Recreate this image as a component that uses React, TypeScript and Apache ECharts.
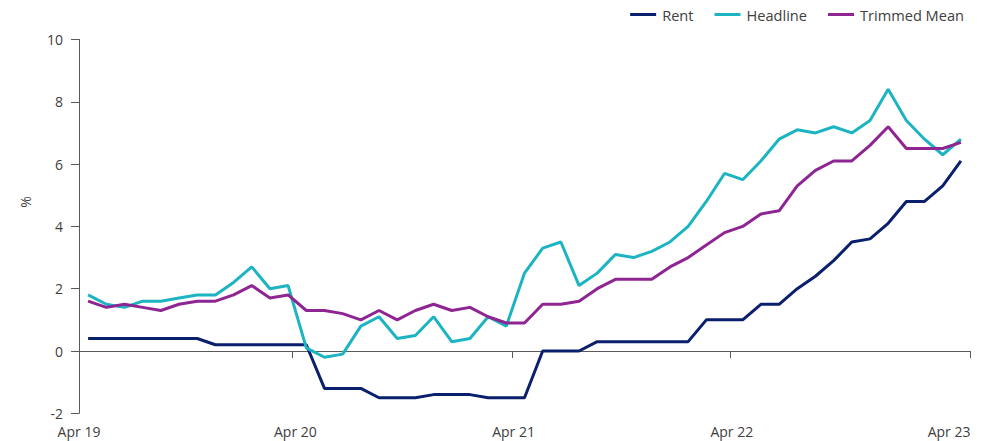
import React, { useEffect, useRef } from "react";
import * as echarts from "echarts";

const months = [
  "Apr 19","May 19","Jun 19","Jul 19","Aug 19","Sep 19","Oct 19","Nov 19","Dec 19","Jan 20","Feb 20","Mar 20",
  "Apr 20","May 20","Jun 20","Jul 20","Aug 20","Sep 20","Oct 20","Nov 20","Dec 20","Jan 21","Feb 21","Mar 21",
  "Apr 21","May 21","Jun 21","Jul 21","Aug 21","Sep 21","Oct 21","Nov 21","Dec 21","Jan 22","Feb 22","Mar 22",
  "Apr 22","May 22","Jun 22","Jul 22","Aug 22","Sep 22","Oct 22","Nov 22","Dec 22","Jan 23","Feb 23","Mar 23",
  "Apr 23",
];

const tickLabels = ["Apr 19", "Apr 20", "Apr 21", "Apr 22", "Apr 23"];

const rent = [
  0.4, 0.4, 0.4, 0.4, 0.4, 0.4, 0.4, 0.2, 0.2, 0.2, 0.2, 0.2,
  0.2, -1.2, -1.2, -1.2, -1.5, -1.5, -1.5, -1.4, -1.4, -1.4, -1.5, -1.5,
  -1.5, 0.0, 0.0, 0.0, 0.3, 0.3, 0.3, 0.3, 0.3, 0.3, 1.0, 1.0,
  1.0, 1.5, 1.5, 2.0, 2.4, 2.9, 3.5, 3.6, 4.1, 4.8, 4.8, 5.3,
  6.1,
];

const headline = [
  1.8, 1.5, 1.4, 1.6, 1.6, 1.7, 1.8, 1.8, 2.2, 2.7, 2.0, 2.1,
  0.1, -0.2, -0.1, 0.8, 1.1, 0.4, 0.5, 1.1, 0.3, 0.4, 1.1, 0.8,
  2.5, 3.3, 3.5, 2.1, 2.5, 3.1, 3.0, 3.2, 3.5, 4.0, 4.8, 5.7,
  5.5, 6.1, 6.8, 7.1, 7.0, 7.2, 7.0, 7.4, 8.4, 7.4, 6.8, 6.3,
  6.8,
];

const trimmedMean = [
  1.6, 1.4, 1.5, 1.4, 1.3, 1.5, 1.6, 1.6, 1.8, 2.1, 1.7, 1.8,
  1.3, 1.3, 1.2, 1.0, 1.3, 1.0, 1.3, 1.5, 1.3, 1.4, 1.1, 0.9,
  0.9, 1.5, 1.5, 1.6, 2.0, 2.3, 2.3, 2.3, 2.7, 3.0, 3.4, 3.8,
  4.0, 4.4, 4.5, 5.3, 5.8, 6.1, 6.1, 6.6, 7.2, 6.5, 6.5, 6.5,
  6.7,
];

const FONT = '"Open Sans", "Noto Sans", sans-serif';
const TEXT = "#404040";
const AXIS = "#595959";

// axis positions (in month units, boundary-based) of the ticks and of the labels
const tickPos = [0, 11.75, 23.8, 35.8, 49];
const labelPos = [0, 11.9, 23.9, 35.9, 47.85];

const toPoints = (vals: number[]) => vals.map((v, i) => ({ value: [i + 0.5, v], name: months[i] }));

export default function App() {
  const ref = useRef<HTMLDivElement>(null);
  useEffect(() => {
    if (!ref.current) return;
    const chart = echarts.init(ref.current, null, { renderer: "svg" });
    const xCommon = {
      type: "value" as const,
      min: 0,
      max: months.length,
      interval: 12,
      splitLine: { show: false },
    };
    chart.setOption({
      animation: false,
      textStyle: { fontFamily: FONT },
      legend: {
        right: 20,
        top: 2,
        itemWidth: 26,
        itemHeight: 3,
        itemGap: 21,
        icon: "rect",
        textStyle: { fontSize: 14.6, color: TEXT, fontFamily: FONT, padding: [0, 0, 0, 1] },
        data: ["Rent", "Headline", "Trimmed Mean"],
      },
      grid: { left: 79, right: 19, top: 39.5, bottom: 27.7, containLabel: false },
      xAxis: [
        {
          ...xCommon,
          position: "bottom",
          axisLine: { show: false, onZero: false },
          axisTick: { show: false },
          axisLabel: {
            show: true,
            margin: 11,
            fontSize: 14,
            color: TEXT,
            fontFamily: FONT,
            customValues: labelPos,
            formatter: (v: number) => {
              const k = labelPos.findIndex((p) => Math.abs(p - v) < 1e-6);
              return k >= 0 ? tickLabels[k] : "";
            },
          },
        },
        {
          ...xCommon,
          position: "bottom",
          axisLine: { show: true, onZero: true, lineStyle: { color: AXIS, width: 1 } },
          axisTick: { show: true, length: 7, lineStyle: { color: AXIS }, customValues: tickPos },
          axisLabel: { show: false },
        },
      ],
      yAxis: {
        type: "value",
        min: -2,
        max: 10,
        interval: 2,
        axisLine: { show: true, onZero: false, lineStyle: { color: AXIS, width: 1 } },
        axisTick: { show: true, length: 8, lineStyle: { color: AXIS } },
        axisLabel: { margin: 16, fontSize: 14, color: TEXT, fontFamily: FONT },
        splitLine: { show: false },
      },
      graphic: [
        {
          type: "text",
          x: 25,
          y: 202,
          rotation: Math.PI / 2,
          style: {
            text: "%",
            font: `14px ${FONT}`,
            fill: TEXT,
            align: "center",
            verticalAlign: "middle",
          },
        },
      ],
      series: [
        {
          name: "Rent",
          type: "line",
          xAxisIndex: 0,
          data: toPoints(rent),
          showSymbol: false,
          symbol: "none",
          lineStyle: { color: "#0A1F6E", width: 3 },
          itemStyle: { color: "#0A1F6E" },
        },
        {
          name: "Headline",
          type: "line",
          xAxisIndex: 0,
          data: toPoints(headline),
          showSymbol: false,
          symbol: "none",
          lineStyle: { color: "#1CB4C2", width: 3 },
          itemStyle: { color: "#1CB4C2" },
        },
        {
          name: "Trimmed Mean",
          type: "line",
          xAxisIndex: 0,
          data: toPoints(trimmedMean),
          showSymbol: false,
          symbol: "none",
          lineStyle: { color: "#8E2592", width: 3 },
          itemStyle: { color: "#8E2592" },
        },
      ],
    });
    return () => chart.dispose();
  }, []);
  return <div ref={ref} style={{ width: 989, height: 441, position: "absolute", left: 0, top: 0 }} />;
}
